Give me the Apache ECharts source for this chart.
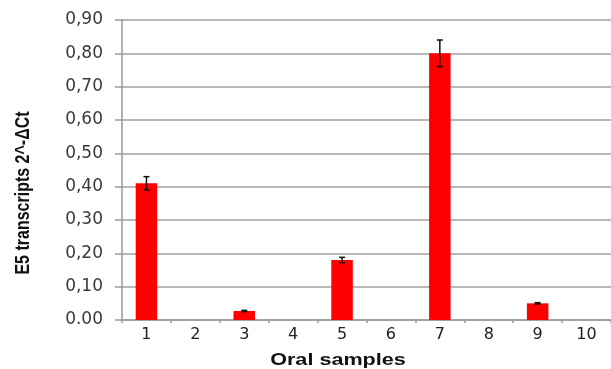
<!DOCTYPE html>
<html><head><meta charset="utf-8">
<script src="https://cdn.jsdelivr.net/npm/echarts@6/dist/echarts.min.js"></script>
<style>html,body{margin:0;padding:0;background:#fff}#c{width:611px;height:369px}</style>
</head><body><div id="c"></div>
<script>
const categories = ['1','2','3','4','5','6','7','8','9','10'];
const values = [0.41, 0, 0.027, 0, 0.18, 0, 0.80, 0, 0.05, 0];
const errLow = [0.39, null, 0.025, null, 0.172, null, 0.76, null, 0.048, null];
const errHigh = [0.43, null, 0.029, null, 0.188, null, 0.84, null, 0.052, null];
const yTickLabels = ['0.00','0,10','0,20','0,30','0,40','0,50','0,60','0,70','0,80','0,90'];
const yTitle = 'E5 transcripts 2^-ΔCt';
const xTitle = 'Oral samples';

const errData = [];
categories.forEach((c, i) => { if (errLow[i] != null) errData.push([i, errLow[i], errHigh[i]]); });

const chart = echarts.init(document.getElementById('c'), null, {renderer: 'canvas'});
chart.setOption({
  animation: false,
  grid: {left: 122, right: -1, top: 20, bottom: 49},
  xAxis: {
    type: 'category', data: categories,
    axisLine: {lineStyle: {color: '#9a9a9a', width: 1.5}},
    axisTick: {show: true, length: 3, lineStyle: {color: '#9a9a9a', width: 1.5}},
    axisLabel: {margin: 7, color: '#222', fontFamily: 'DejaVu Sans', fontSize: 16}
  },
  yAxis: {
    type: 'value', min: 0, max: 0.9, interval: 0.1,
    axisLine: {show: true, lineStyle: {color: '#9a9a9a', width: 1.5}},
    axisTick: {show: true, inside: false, length: 7, lineStyle: {color: '#9a9a9a', width: 1.5}},
    splitLine: {lineStyle: {color: '#a0a0a0', width: 1.5}},
    axisLabel: {
      margin: 19, color: '#3a3a3a', fontFamily: 'DejaVu Sans', fontSize: 17,
      formatter: function (v) { return yTickLabels[Math.round(v * 10)]; }
    }
  },
  graphic: [
    {type: 'text', x: 23, y: 193, rotation: Math.PI / 2, scaleY: 1.25,
     style: {text: yTitle, font: 'bold 16px "Liberation Sans", Arial', fill: '#111', align: 'center', verticalAlign: 'middle'}},
    {type: 'text', x: 338, y: 361, scaleX: 1.35,
     style: {text: xTitle, font: 'bold 16px "Liberation Sans", Arial', fill: '#111', align: 'center', verticalAlign: 'middle'}}
  ],
  series: [
    {type: 'bar', data: values, barWidth: '44%', itemStyle: {color: '#ff0000'}, z: 2},
    {type: 'custom', data: errData, z: 3,
     renderItem: function (params, api) {
       const x = api.value(0);
       const lo = api.coord([x, api.value(1)]);
       const hi = api.coord([x, api.value(2)]);
       const hw = 3;
       const st = {stroke: '#111', lineWidth: 1.5};
       return {type: 'group', children: [
         {type: 'line', shape: {x1: lo[0], y1: lo[1], x2: hi[0], y2: hi[1]}, style: st},
         {type: 'line', shape: {x1: lo[0]-hw, y1: lo[1], x2: lo[0]+hw, y2: lo[1]}, style: st},
         {type: 'line', shape: {x1: hi[0]-hw, y1: hi[1], x2: hi[0]+hw, y2: hi[1]}, style: st}
       ]};
     }}
  ]
});
</script></body></html>
